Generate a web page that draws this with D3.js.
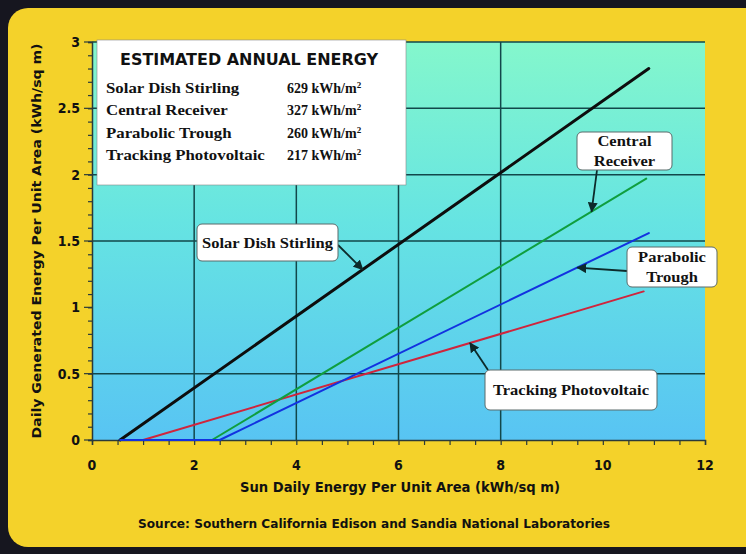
<!DOCTYPE html>
<html>
<head>
<meta charset="utf-8">
<script src="https://cdn.jsdelivr.net/npm/d3@7"></script>
<style>
  html, body { margin: 0; padding: 0; background: #16161f; }
  svg { display: block; }
  .bold { font-family: 'Liberation Sans Narrow', 'DejaVu Sans Condensed', 'Arial Narrow', sans-serif; font-weight: bold; fill: #111; }
  .serif { font-family: 'Liberation Serif', 'DejaVu Serif', serif; fill: #111; font-weight: bold; }
</style>
</head>
<body>
<svg id="chart" width="746" height="554"></svg>
<script>
// Axis ticks and grid
const xTicks = [0, 2, 4, 6, 8, 10, 12];
const yTicks = [0, 0.5, 1, 1.5, 2, 2.5, 3];
const xGrid = [2, 4, 6, 8];
const yGrid = [0.5, 1.5, 2, 2.5, 3];

// Technologies and their estimated annual energy (kWh/m²)
const technologies = ["Solar Dish Stirling", "Central Receiver", "Parabolic Trough", "Tracking Photovoltaic"];
const annualEnergy = [629, 327, 260, 217];

// Daily generated energy vs. sun daily energy (kWh/sq m)
const dishStirling = [[0.55, 0], [10.9, 2.8]];
const centralReceiver = [[2.35, 0], [10.85, 1.97]];
const parabolicTrough = [[0.55, 0], [2.5, 0], [10.9, 1.56]];
const trackingPV = [[1.0, 0], [10.8, 1.12]];

const seriesColors = ["#0d0d0d", "#0f9e3e", "#1232e0", "#d0243c"];
const seriesWidths = [3, 2, 2, 2];

const svg = d3.select("#chart");
const W = 746, H = 554;

// Frame: dark backdrop with rounded yellow panel
svg.append("rect").attr("width", W).attr("height", H).attr("fill", "#16161f");
svg.append("rect").attr("x", 8).attr("y", 8).attr("width", W + 10).attr("height", H - 15)
  .attr("rx", 20).attr("fill", "#f4d22a");

const x = d3.scaleLinear().domain([0, 12]).range([92, 705]);
const y = d3.scaleLinear().domain([0, 3]).range([440, 42]);

// Plot background gradient
const defs = svg.append("defs");
const grad = defs.append("linearGradient").attr("id", "bg").attr("x1", 0).attr("y1", 0).attr("x2", 0).attr("y2", 1);
grad.append("stop").attr("offset", "0%").attr("stop-color", "#84f7cc");
grad.append("stop").attr("offset", "45%").attr("stop-color", "#66e4e2");
grad.append("stop").attr("offset", "100%").attr("stop-color", "#58c4f3");

const marker = defs.append("marker").attr("id", "arrow").attr("viewBox", "0 0 10 10")
  .attr("refX", 9).attr("refY", 5).attr("markerWidth", 10).attr("markerHeight", 10)
  .attr("markerUnits", "userSpaceOnUse").attr("orient", "auto");
marker.append("path").attr("d", "M0,0 L10,5 L0,10 Z").attr("fill", "#0c2a2a");

svg.append("rect")
  .attr("x", x(0)).attr("y", y(3)).attr("width", x(12) - x(0)).attr("height", y(0) - y(3))
  .attr("fill", "url(#bg)");

// Grid
svg.append("g").selectAll("line").data(xGrid).join("line")
  .attr("x1", d => x(d)).attr("x2", d => x(d)).attr("y1", y(0)).attr("y2", y(3))
  .attr("stroke", "#12474a").attr("stroke-width", 1.5);
svg.append("g").selectAll("line").data(yGrid).join("line")
  .attr("x1", x(0)).attr("x2", x(12)).attr("y1", d => y(d)).attr("y2", d => y(d))
  .attr("stroke", "#12474a").attr("stroke-width", 1.5);

// Axes
const xMinor = d3.range(0, 12.01, 0.5);
const yMinor = d3.range(0, 3.001, 0.1);
const xAxisG = svg.append("g").attr("transform", `translate(0,${y(0)})`);
xAxisG.call(d3.axisBottom(x).tickValues(xMinor).tickSize(5).tickFormat(""));
xAxisG.call(g => g.select(".domain").attr("stroke", "#2a3a3a").attr("stroke-width", 1.5));
xAxisG.selectAll(".tick line").attr("stroke", "#2a3a3a").attr("stroke-width", 1.2);
svg.append("g").selectAll("text").data(xTicks).join("text")
  .attr("class", "bold").attr("x", d => x(d)).attr("y", 470).attr("text-anchor", "middle")
  .attr("font-size", 14).text(d => d);

const yAxisG = svg.append("g").attr("transform", `translate(${x(0)},0)`);
yAxisG.call(d3.axisLeft(y).tickValues(yMinor).tickSize(4).tickFormat(""));
yAxisG.call(g => g.select(".domain").attr("stroke", "#2a3a3a").attr("stroke-width", 1.5));
yAxisG.selectAll(".tick line").attr("stroke", "#2a3a3a").attr("stroke-width", 1.2);
yAxisG.append("g").selectAll("line").data(yTicks).join("line")
  .attr("x1", -8).attr("x2", 0).attr("y1", d => y(d)).attr("y2", d => y(d))
  .attr("stroke", "#2a3a3a").attr("stroke-width", 1.2);
svg.append("g").selectAll("text").data(yTicks).join("text")
  .attr("class", "bold").attr("x", 80).attr("y", d => y(d) + 5).attr("text-anchor", "end")
  .attr("font-size", 14).text(d => d);

// Series lines (trough drawn last so it sits on the baseline)
const allSeries = [dishStirling, centralReceiver, parabolicTrough, trackingPV];
const line = d3.line().x(d => x(d[0])).y(d => y(d[1]));
[0, 3, 1, 2].forEach(i => {
  svg.append("path").datum(allSeries[i]).attr("d", line).attr("fill", "none")
    .attr("stroke", seriesColors[i]).attr("stroke-width", seriesWidths[i])
    .attr("stroke-linejoin", "round").attr("stroke-linecap", "round");
});

// Value of a series at a given x (linear between points)
function valueAt(data, xv) {
  for (let k = 1; k < data.length; k++) {
    const [x0, y0] = data[k - 1], [x1, y1] = data[k];
    if (xv >= x0 && xv <= x1) return y0 + (y1 - y0) * (xv - x0) / (x1 - x0);
  }
  return data[data.length - 1][1];
}

// Widen narrow-set text a little
function stretch(sel, f) {
  const w = sel.node().getComputedTextLength();
  sel.attr("textLength", w * f).attr("lengthAdjust", "spacingAndGlyphs");
}

// Estimated annual energy legend
const lg = svg.append("g");
lg.append("rect").attr("x", 97).attr("y", 40).attr("width", 309).attr("height", 145)
  .attr("fill", "#ffffff").attr("stroke", "#888").attr("stroke-width", 0.6);
lg.append("text").attr("class", "bold").attr("x", 249).attr("y", 65).attr("text-anchor", "middle")
  .attr("font-size", 16)
  .attr("textLength", 258).attr("lengthAdjust", "spacingAndGlyphs")
  .text("ESTIMATED ANNUAL ENERGY");
const rowY = [93, 115, 138, 160];
technologies.forEach((t, i) => {
  const n = lg.append("text").attr("class", "serif").attr("x", 106).attr("y", rowY[i])
    .attr("font-size", 15).text(t);
  stretch(n, 1.12);
  const v = lg.append("text").attr("class", "serif").attr("x", 287).attr("y", rowY[i])
    .attr("font-size", 14);
  v.append("tspan").text(annualEnergy[i] + " kWh/m");
  v.append("tspan").attr("dy", -5).attr("font-size", 9).text("2");
});

// Callout boxes with arrows to the lines
function callout(lines, bx, by, bw, bh, from, series, tipX) {
  const tip = [x(tipX), y(valueAt(series, tipX))];
  svg.append("line").attr("x1", from[0]).attr("y1", from[1]).attr("x2", tip[0]).attr("y2", tip[1])
    .attr("stroke", "#0c2a2a").attr("stroke-width", 1.8).attr("marker-end", "url(#arrow)");
  svg.append("rect").attr("x", bx).attr("y", by).attr("width", bw).attr("height", bh).attr("rx", 5)
    .attr("fill", "#ffffff").attr("stroke", "#5a6a6a").attr("stroke-width", 1);
  const lh = 20;
  const startY = by + bh / 2 - (lines.length - 1) * lh / 2 + 5;
  lines.forEach((s, k) => {
    const t = svg.append("text").attr("class", "serif").attr("x", bx + bw / 2).attr("y", startY + k * lh)
      .attr("text-anchor", "middle").attr("font-size", 15).text(s);
    stretch(t, 1.1);
  });
}
callout(["Solar Dish Stirling"], 197, 224, 141, 37, [338, 245], dishStirling, 5.3);
callout(["Central", "Receiver"], 577, 132, 95, 38, [597, 170], centralReceiver, 9.78);
callout(["Parabolic", "Trough"], 627, 247, 90, 40, [627, 271], parabolicTrough, 9.5);
callout(["Tracking Photovoltaic"], 485, 370, 172, 40, [488, 370], trackingPV, 7.4);

// Axis titles and source
svg.append("text").attr("class", "bold").attr("x", 400).attr("y", 492).attr("text-anchor", "middle")
  .attr("font-size", 14).attr("textLength", 320).attr("lengthAdjust", "spacingAndGlyphs")
  .text("Sun Daily Energy Per Unit Area (kWh/sq m)");
svg.append("text").attr("class", "bold")
  .attr("transform", `translate(41,241) rotate(-90)`).attr("text-anchor", "middle")
  .attr("font-size", 13).attr("textLength", 395).attr("lengthAdjust", "spacingAndGlyphs")
  .text("Daily Generated Energy Per Unit Area (kWh/sq m)");
svg.append("text").attr("class", "bold").attr("x", 374).attr("y", 528).attr("text-anchor", "middle")
  .attr("font-size", 13).attr("textLength", 472).attr("lengthAdjust", "spacingAndGlyphs")
  .text("Source: Southern California Edison and Sandia National Laboratories");
</script>
</body>
</html>
